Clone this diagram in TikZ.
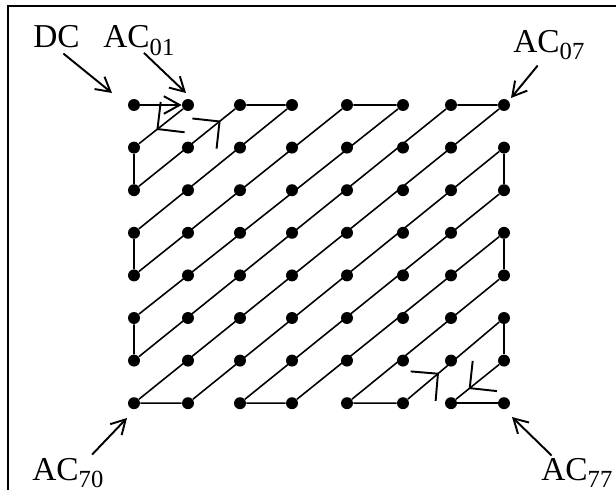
\documentclass[tikz,border=0pt]{standalone}
\usepackage{fontspec}
\setmainfont{Liberation Serif}
\usetikzlibrary{arrows.meta,decorations.markings}

\newcommand{\acsub}[1]{AC\raisebox{-4pt}{\fontsize{14}{14}\selectfont #1}}

\begin{document}
\begin{tikzpicture}[x=0.02cm,y=-0.02cm,
		gridpt/.style={circle,fill,inner sep=0pt,minimum size=6.8pt},
		scan/.style={line width=0.9pt},
		dirtip/.style={postaction={decorate,decoration={markings,
			mark=at position #1 with {\draw[line width=1.1pt,solid] (-11pt,11pt) -- (0pt,0pt) -- (-11pt,-11pt);}}}},
		lbl/.style={anchor=base west,inner sep=0pt,font=\fontsize{19}{19}\selectfont},
		pointer/.style={line width=1.1pt,-{Straight Barb[length=8pt,width=9pt]}}]
			\useasboundingbox (0,0) rectangle (616,490);
			\clip (0,0) rectangle (616,490);
			\fill[white] (0,0) rectangle (616,490);
			\draw[line width=1.2pt] (8,490) -- (8,6) -- (616,6);

			\foreach \cx [count=\c from 0] in {134,188,240,292,347,403,451,504}
				\foreach \r in {0,...,7}
					\node[gridpt] (p\r\c) at (\cx,{105+42.6*\r}) {};

			\draw[scan,-{Straight Barb[length=9pt,width=10pt,line width=1.1pt]}] (p00) -- (p01);
			\draw[scan,dirtip=0.58] (p01) -- (p10);
			\draw[scan] (p10) -- (p20);
			\draw[scan,dirtip=0.84] (p20) -- (p02);
			\draw[scan] (p02) -- (p03) -- (p30) -- (p40) -- (p04) -- (p05) -- (p50) -- (p60)
				-- (p06) -- (p07) -- (p70) -- (p71) -- (p17) -- (p27) -- (p72) -- (p73)
				-- (p37) -- (p47) -- (p74) -- (p75);
			\draw[scan,dirtip=0.33] (p75) -- (p57);
			\draw[scan] (p57) -- (p67);
			\draw[scan,dirtip=0.68] (p67) -- (p76);
			\draw[scan] (p76) -- (p77);

			\node[lbl] (dc) at (33,48) {DC};
			\node[lbl] (ac01) at (103,48) {\acsub{01}};
			\node[lbl] (ac07) at (513,52) {\acsub{07}};
			\node[lbl] (ac70) at (32,480) {\acsub{70}};
			\node[lbl] (ac77) at (541,480) {\acsub{77}};

			\coordinate (tdc) at (112,93);
			\coordinate (t01) at (186,93);
			\coordinate (t07) at (511,98);
			\coordinate (t70) at (127,418);
			\coordinate (t77) at (512,417);

			\draw[pointer,shorten <=5pt] (dc.base) -- (tdc);
			\draw[pointer,shorten <=4pt] (ac01.base) -- (t01);
			\draw[pointer,shorten <=10pt] (ac07.base) -- (t07);
			\draw[pointer,shorten <=20pt] (ac70.base) -- (t70);
			\draw[pointer,shorten <=20pt] (ac77.base) -- (t77);
		\end{tikzpicture}
\end{document}
